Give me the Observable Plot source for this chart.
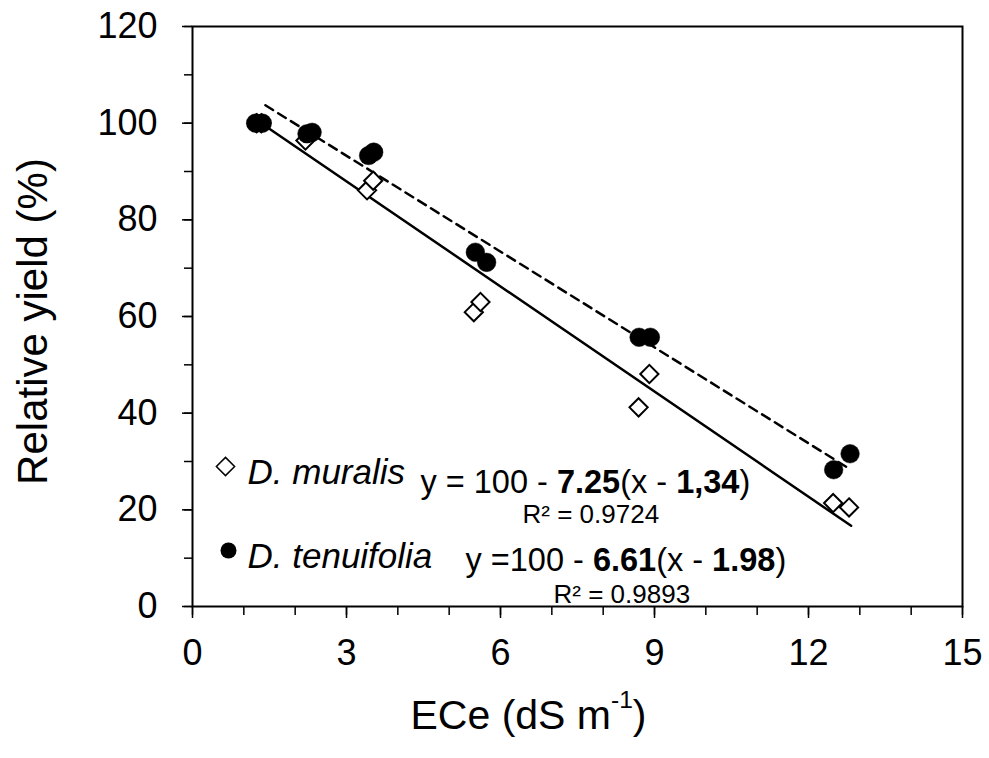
<!DOCTYPE html>
<html><head><meta charset="utf-8">
<script src="https://cdn.jsdelivr.net/npm/d3@7"></script>
<script src="https://cdn.jsdelivr.net/npm/@observablehq/plot@0.6"></script>
<style>
body{margin:0;background:#fff}
svg{font-family:"Liberation Sans",Arial,sans-serif}
</style>
</head><body><div id="chart"></div>
<script>
// ---- data ----
const species = ["D. muralis", "D. tenuifolia"];
const muralisX = [1.25, 1.34, 2.20, 3.40, 3.52, 5.48, 5.61, 8.69, 8.90, 12.48, 12.79];
const muralisY = [100, 100, 96.4, 86.1, 88.1, 60.9, 63.0, 41.2, 48.1, 21.4, 20.5];
const tenuifoliaX = [1.23, 1.36, 2.23, 2.33, 3.43, 3.53, 5.51, 5.73, 8.70, 8.92, 12.49, 12.81];
const tenuifoliaY = [100, 100, 97.8, 98.1, 93.3, 94.0, 73.3, 71.2, 55.7, 55.7, 28.3, 31.6];
const slopes = [7.25, 6.61];
const thresholds = [1.34, 1.98];
const slopeLabels = ["7.25", "6.61"];
const thresholdLabels = ["1,34", "1.98"];
const eqPrefixes = ["y = 100 - ", "y =100 - "];
const r2Labels = ["R² = 0.9724", "R² = 0.9893"];
const trendStart = [1.34, 1.42];
const trendEnd = [12.83, 12.77];
const xTicks = [0, 3, 6, 9, 12, 15];
const xMinor = d3.range(0, 16, 1);
const yTicks = [0, 20, 40, 60, 80, 100, 120];
const yMinor = d3.range(0, 121, 10);
const xLabel = ["ECe (dS m", "-1", ")"];
const yLabel = "Relative yield (%)";

// ---- derived tables ----
const muralis = muralisX.map((x, i) => ({x, y: muralisY[i]}));
const tenuifolia = tenuifoliaX.map((x, i) => ({x, y: tenuifoliaY[i]}));
const trend = species.flatMap((s, i) => [trendStart[i], trendEnd[i]].map(x => ({s: i, x, y: 100 - slopes[i] * (x - thresholds[i])})));

const FONT = "Liberation Sans, Arial, sans-serif";
const EQ_MARKER = ["\u200B#eq0#", "\u200B#eq1#"];
const XL_MARKER = "\u200B#xl#";

const plot = Plot.plot({
  width: 989, height: 758,
  marginLeft: 192, marginRight: 27, marginTop: 26, marginBottom: 152,
  style: {fontFamily: FONT, color: "black", background: "white"},
  x: {domain: [0, 15], axis: null},
  y: {domain: [0, 120], axis: null},
  marks: [
    // minor ticks
    Plot.axisX({ticks: xMinor, tickSize: 9, tickFormat: () => "", label: null, strokeWidth: 1.5}),
    Plot.axisY({ticks: yMinor, tickSize: 8, tickFormat: () => "", label: null, strokeWidth: 1.5}),
    // major ticks + labels
    Plot.axisX({ticks: xTicks, tickSize: 12, tickPadding: 21, fontSize: 36, label: null, strokeWidth: 1.5, tickFormat: d => String(d)}),
    Plot.axisY({ticks: yTicks, tickSize: 10, tickPadding: 25, fontSize: 36, label: null, strokeWidth: 1.5, tickFormat: d => String(d)}),
    Plot.frame({stroke: "black", strokeWidth: 2}),
    // regression lines
    Plot.line(trend.filter(d => d.s === 0), {x: "x", y: "y", stroke: "black", strokeWidth: 2.5}),
    Plot.line(trend.filter(d => d.s === 1), {x: "x", y: "y", stroke: "black", strokeWidth: 2.5, strokeDasharray: "9,6"}),
    // points
    Plot.dot(muralis, {x: "x", y: "y", symbol: "diamond2", r: 8.2, fill: "white", stroke: "black", strokeWidth: 2}),
    Plot.dot(tenuifolia, {x: "x", y: "y", symbol: "circle", r: 9.3, fill: "black", stroke: "black", strokeWidth: 0.5}),
    // legend
    Plot.dot([0], {frameAnchor: "bottom-left", dx: 33, dy: -140, symbol: "diamond2", r: 8.2, fill: "white", stroke: "black", strokeWidth: 1.5}),
    Plot.dot([0], {frameAnchor: "bottom-left", dx: 36, dy: -56, symbol: "circle", r: 8, fill: "black"}),
    Plot.text([species[0]], {frameAnchor: "bottom-left", dx: 55, dy: -123, textAnchor: "start", lineAnchor: "bottom", fontSize: 35, fontStyle: "italic", fill: "black"}),
    Plot.text([species[1]], {frameAnchor: "bottom-left", dx: 55, dy: -39, textAnchor: "start", lineAnchor: "bottom", fontSize: 35, fontStyle: "italic", fill: "black"}),
    Plot.text([EQ_MARKER[0]], {frameAnchor: "bottom-left", dx: 228, dy: -114, textAnchor: "start", lineAnchor: "bottom", fontSize: 32.5, fill: "black"}),
    Plot.text([EQ_MARKER[1]], {frameAnchor: "bottom-left", dx: 273, dy: -36, textAnchor: "start", lineAnchor: "bottom", fontSize: 32.5, fill: "black"}),
    Plot.text([r2Labels[0]], {frameAnchor: "bottom-left", dx: 330, dy: -84, textAnchor: "start", lineAnchor: "bottom", fontSize: 26, fill: "black"}),
    Plot.text([r2Labels[1]], {frameAnchor: "bottom-left", dx: 361, dy: -4, textAnchor: "start", lineAnchor: "bottom", fontSize: 26, fill: "black"}),
    // axis titles
    Plot.text([yLabel], {frameAnchor: "left", dx: -146, dy: 5, rotate: -90, textAnchor: "middle", lineAnchor: "bottom", fontSize: 42, fill: "black"}),
    Plot.text([XL_MARKER], {frameAnchor: "bottom", dx: -49, dy: 122, textAnchor: "middle", lineAnchor: "bottom", fontSize: 41, fill: "black"})
  ]
});

const NS = "http://www.w3.org/2000/svg";
function setRich(marker, parts) {
  const t = Array.from(plot.querySelectorAll("text")).find(el => el.textContent === marker);
  if (!t) return;
  while (t.firstChild) t.removeChild(t.firstChild);
  for (const p of parts) {
    const ts = document.createElementNS(NS, "tspan");
    ts.textContent = p.s;
    if (p.bold) ts.setAttribute("font-weight", "bold");
    if (p.sup) { ts.setAttribute("font-size", "0.6em"); ts.setAttribute("dy", "-0.85em"); }
    if (p.down) ts.setAttribute("dy", p.down);
    t.appendChild(ts);
  }
}
const eqParts = i => [
  {s: eqPrefixes[i]}, {s: slopeLabels[i], bold: true}, {s: "(x - "},
  {s: thresholdLabels[i], bold: true}, {s: ")"}
];
setRich(EQ_MARKER[0], eqParts(0));
setRich(EQ_MARKER[1], eqParts(1));
setRich(XL_MARKER, [{s: xLabel[0]}, {s: xLabel[1], sup: true}, {s: xLabel[2], down: "0.51em"}]);

document.getElementById("chart").appendChild(plot);
</script>
</body></html>
